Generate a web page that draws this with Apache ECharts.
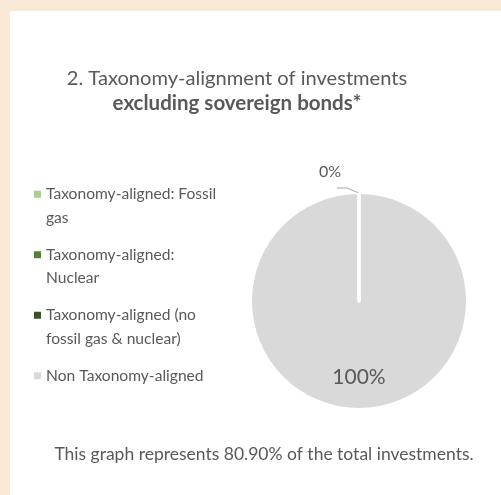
<!DOCTYPE html>
<html>
<head>
<meta charset="utf-8">
<script src="https://cdn.jsdelivr.net/npm/echarts@6/dist/echarts.min.js"></script>
<style>
html,body{margin:0;padding:0;background:#FBE9D7;width:501px;height:495px;overflow:hidden;}
#chart{position:absolute;left:10px;top:11px;width:491px;height:484px;background:#fff;}
</style>
</head>
<body>
<div id="chart"></div>
<script>
const categories = [
  'Taxonomy-aligned: Fossil gas',
  'Taxonomy-aligned: Nuclear',
  'Taxonomy-aligned (no fossil gas & nuclear)',
  'Non Taxonomy-aligned'
];
const values = [0, 0, 0, 100];
const valueLabels = ['0%', '0%', '0%', '100%'];
const legendLines = {
  'Taxonomy-aligned: Fossil gas': ['Taxonomy-aligned: Fossil', 'gas'],
  'Taxonomy-aligned: Nuclear': ['Taxonomy-aligned:', 'Nuclear'],
  'Taxonomy-aligned (no fossil gas & nuclear)': ['Taxonomy-aligned (no', 'fossil gas & nuclear)'],
  'Non Taxonomy-aligned': ['Non Taxonomy-aligned']
};
const colors = ['#A9D18E', '#548235', '#375623', '#D9D9D9'];
const titleLine1 = '2. Taxonomy-alignment of investments';
const titleLine2 = 'excluding sovereign bonds*';
const footnote = 'This graph represents 80.90% of the total investments.';

const FONT = 'Lato, "Open Sans", sans-serif';
const TXT = '#595959';

const chart = echarts.init(document.getElementById('chart'), null, {renderer: 'canvas'});

const mainData = categories.map((c, i) => ({
  name: c,
  value: values[i],
  label: i === 3
    ? { show: true, position: 'inside', fontSize: 21 }
    : { show: i === 0, position: 'outside' },
  labelLine: { show: i === 0 }
}));

const borderData = categories.map((c, i) => ({
  name: c,
  value: values[i],
  itemStyle: values[i] === 0
    ? { color: 'rgba(0,0,0,0)', borderColor: '#fff', borderWidth: 3 }
    : { color: 'rgba(0,0,0,0)', borderWidth: 0 }
}));

chart.setOption({
  animation: false,
  color: colors,
  title: [
    {
      text: titleLine1 + '\n{b|' + titleLine2 + '}',
      left: 227, top: 55, textAlign: 'center', padding: 0,
      textStyle: {
        fontFamily: FONT, fontSize: 20.1, fontWeight: 'normal', color: TXT, lineHeight: 25,
        rich: { b: { fontFamily: FONT, fontSize: 20.5, fontWeight: 'bold', color: TXT, lineHeight: 25 } }
      }
    },
    {
      text: footnote,
      left: 254, top: 434, textAlign: 'center', padding: 0,
      textStyle: { fontFamily: FONT, fontSize: 17.5, fontWeight: 'normal', color: TXT }
    }
  ],
  legend: {
    orient: 'vertical',
    left: 19, top: 143,
    itemWidth: 7, itemHeight: 7,
    itemGap: -10,
    icon: 'rect',
    data: categories,
    formatter: name => {
      const lines = legendLines[name];
      return lines.length > 1 ? '\n' + lines.join('\n') : '\n' + lines[0] + '\n';
    },
    textStyle: { fontFamily: FONT, fontSize: 15.6, color: TXT, lineHeight: 23.5 }
  },
  series: [{
    type: 'pie',
    center: [349, 290],
    radius: [0, 107],
    startAngle: 90,
    clockwise: true,
    data: mainData,
    itemStyle: { borderWidth: 0 },
    emphasis: { disabled: true },
    label: {
      fontFamily: FONT, fontSize: 16, color: TXT,
      formatter: p => valueLabels[p.dataIndex]
    },
    labelLine: { length: 6, length2: 10, lineStyle: { color: '#A6A6A6', width: 1 } },
    labelLayout: p => {
      if (p.dataIndex === 3) return { dy: 20 };
      if (p.dataIndex === 0 && p.labelLinePoints && p.labelLinePoints.length) {
        const a = p.labelLinePoints[0];
        return {
          x: a[0] - 29, y: a[1] - 22, align: 'center', verticalAlign: 'middle',
          labelLinePoints: [[a[0], a[1] - 1], [a[0] - 12, a[1] - 6], [a[0] - 22, a[1] - 6]]
        };
      }
      return {};
    }
  }, {
    type: 'pie',
    center: [349, 290],
    radius: [0, 107],
    startAngle: 90,
    clockwise: true,
    silent: true,
    data: borderData,
    label: { show: false },
    labelLine: { show: false }
  }]
});
</script>
</body>
</html>
